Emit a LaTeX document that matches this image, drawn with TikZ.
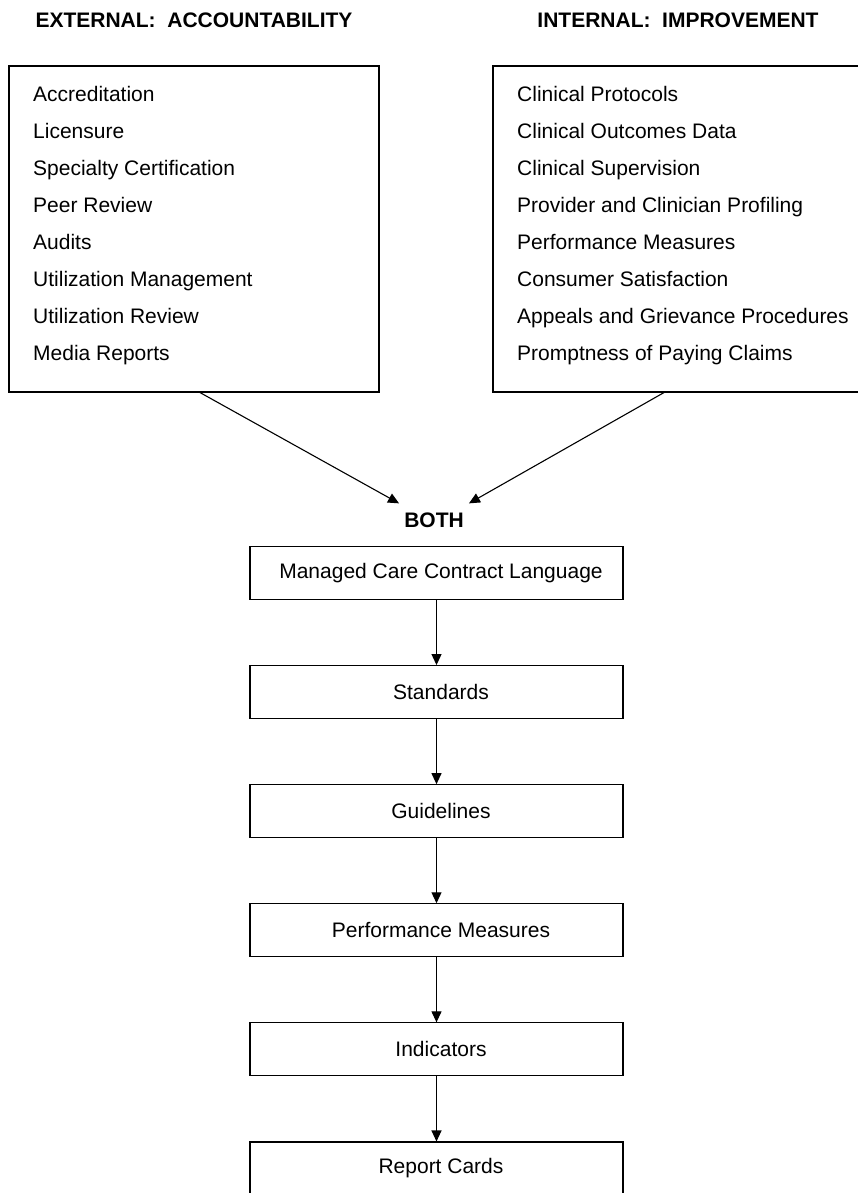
\documentclass[tikz,border=0pt]{standalone}
\usepackage{fontspec}
\setmainfont{Liberation Sans}
\usetikzlibrary{positioning,arrows.meta}

\tikzset{
  head/.style={font=\fontsize{21}{25}\selectfont\bfseries, inner sep=0pt},
  item/.style={font=\fontsize{21}{25}\selectfont, anchor=base west, inner sep=0pt},
  listbox/.style={draw, line width=1.1pt, minimum width=370pt, minimum height=326pt},
  stepbox/.style={draw, line width=1.1pt, minimum width=373pt, minimum height=53pt,
    inner sep=0pt, font=\fontsize{21}{25}\selectfont},
  arr/.style={line width=1.1pt, -{Triangle[length=11pt,width=10pt]}}
}

\begin{document}
\begin{tikzpicture}[x=1pt, y=-1pt, node distance=65pt]
      \clip (0,0) rectangle (858,1193) ;
      % the two lists
      \node[listbox] (extbox) at (194,229) {} ;
      \node[listbox] (intbox) at (678,229) {} ;
      \node[head, above=37.5pt of extbox] (exthead) {EXTERNAL:\ \ ACCOUNTABILITY} ;
      \node[head, above=37.5pt of intbox] (inthead) {INTERNAL:\ \ IMPROVEMENT} ;
      \foreach \txt [count=\i from 0] in {Accreditation, Licensure,
          Specialty Certification, Peer Review, Audits,
          Utilization Management, Utilization Review, Media Reports}
        \node[item] (ext-\i) at (33, 101.7+37*\i) {\txt} ;
      \foreach \txt [count=\i from 0] in {Clinical Protocols,
          Clinical Outcomes Data, Clinical Supervision,
          Provider and Clinician Profiling, Performance Measures,
          Consumer Satisfaction, Appeals and Grievance Procedures,
          Promptness of Paying Claims}
        \node[item] (int-\i) at (517, 101.7+37*\i) {\txt} ;
      \node[head, inner xsep=5pt, inner ysep=9pt] (both) at (434,520) {BOTH} ;
      \draw[arr] ([xshift=6pt]extbox.south) -- (both.north west) ;
      \draw[arr] ([xshift=-14pt]intbox.south) -- (both.north east) ;
      % the chain
      \node[stepbox] (mccl) at (436.5,573) {\hspace{9pt}Managed Care Contract Language} ;
      \node[stepbox, below=of mccl] (std) {\hspace{9pt}Standards} ;
      \node[stepbox, below=of std] (guide) {\hspace{9pt}Guidelines} ;
      \node[stepbox, below=of guide] (perf) {\hspace{9pt}Performance Measures} ;
      \node[stepbox, below=of perf] (ind) {\hspace{9pt}Indicators} ;
      \node[stepbox, below=of ind] (rc) {\hspace{9pt}Report Cards} ;
      \draw[arr] (mccl) -- (std) ;
      \draw[arr] (std) -- (guide) ;
      \draw[arr] (guide) -- (perf) ;
      \draw[arr] (perf) -- (ind) ;
      \draw[arr] (ind) -- (rc) ;
    \end{tikzpicture}
\end{document}
